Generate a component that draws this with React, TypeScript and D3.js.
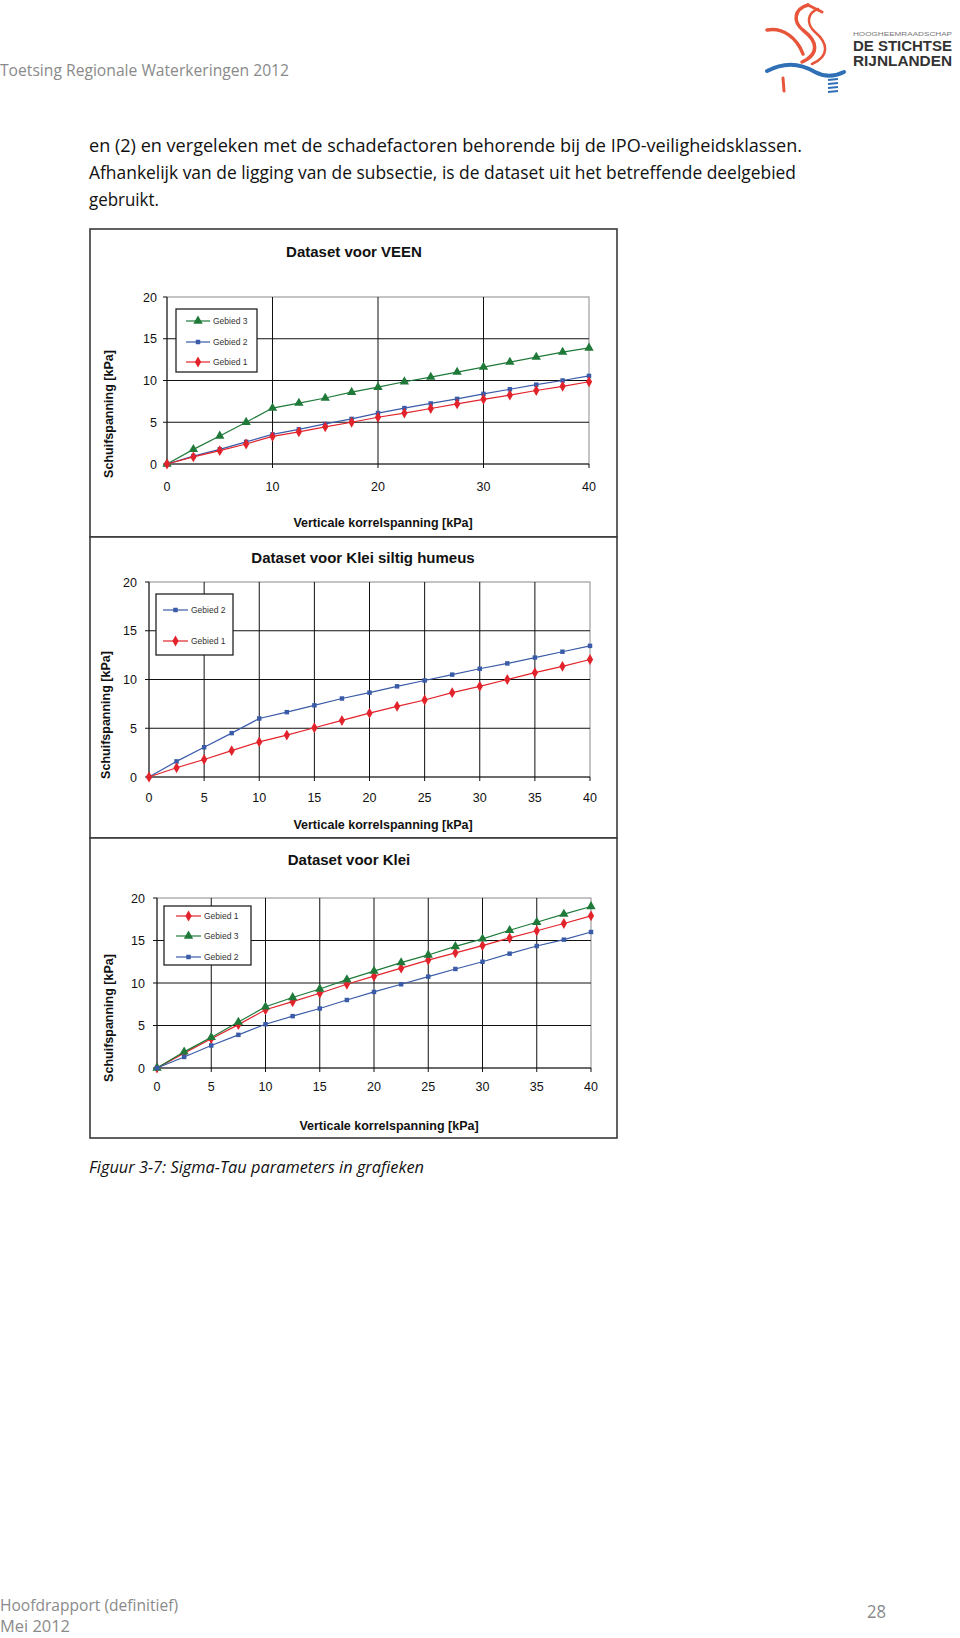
import React from "react";
import * as d3 from "d3";

// ---------- data ----------
const xVals = [0, 2.5, 5, 7.5, 10, 12.5, 15, 17.5, 20, 22.5, 25, 27.5, 30, 32.5, 35, 37.5, 40];

const veenGebied3 = [0, 1.75, 3.35, 5.0, 6.7, 7.3, 7.9, 8.6, 9.2, 9.85, 10.4, 11.0, 11.6, 12.2, 12.8, 13.4, 13.9];
const veenGebied2 = [0, 0.95, 1.75, 2.65, 3.55, 4.15, 4.8, 5.4, 6.1, 6.7, 7.25, 7.8, 8.4, 8.95, 9.5, 10.0, 10.55];
const veenGebied1 = [0, 0.85, 1.6, 2.4, 3.3, 3.85, 4.45, 5.0, 5.6, 6.1, 6.65, 7.2, 7.75, 8.25, 8.8, 9.3, 9.85];

const siltGebied2 = [0, 1.6, 3.05, 4.5, 6.0, 6.65, 7.35, 8.05, 8.65, 9.3, 9.9, 10.5, 11.1, 11.65, 12.25, 12.85, 13.45];
const siltGebied1 = [0, 0.95, 1.8, 2.7, 3.6, 4.3, 5.05, 5.8, 6.55, 7.25, 7.9, 8.65, 9.3, 10.0, 10.7, 11.35, 12.05];

const kleiGebied1 = [0, 1.75, 3.45, 5.1, 6.85, 7.8, 8.8, 9.85, 10.8, 11.75, 12.7, 13.55, 14.4, 15.3, 16.15, 17.0, 17.9];
const kleiGebied3 = [0, 1.9, 3.6, 5.4, 7.2, 8.3, 9.3, 10.4, 11.4, 12.4, 13.3, 14.3, 15.2, 16.2, 17.15, 18.1, 19.0];
const kleiGebied2 = [0, 1.3, 2.65, 3.9, 5.15, 6.1, 7.0, 8.0, 8.95, 9.85, 10.75, 11.65, 12.5, 13.45, 14.35, 15.1, 16.0];

const yTicks = [0, 5, 10, 15, 20];
const xTicksVeen = [0, 10, 20, 30, 40];
const xTicksKlei = [0, 5, 10, 15, 20, 25, 30, 35, 40];

const chartTitles = ["Dataset voor VEEN", "Dataset voor Klei siltig humeus", "Dataset voor Klei"];
const yTitle = "Schuifspanning [kPa]";
const xTitle = "Verticale korrelspanning [kPa]";

const paragraphLines = [
  "en (2) en vergeleken met de schadefactoren behorende bij de IPO-veiligheidsklassen.",
  "Afhankelijk van de ligging van de subsectie, is de dataset uit het betreffende deelgebied",
  "gebruikt.",
];

// ---------- styles ----------
const GREEN = "#1f7a3a";
const BLUE = "#3a5ba8";
const RED = "#e3232b";
const SANS = "Liberation Sans, Arial, sans-serif";
const BODY = "Open Sans, sans-serif";

type Series = { name: string; values: number[]; color: string; marker: "triangle" | "square" | "diamond" };

const markerPath = (m: string) => {
  if (m === "triangle") return d3.symbol(d3.symbolTriangle, 38)()!;
  if (m === "square") return d3.symbol(d3.symbolSquare, 20)()!;
  return d3.symbol(d3.symbolDiamond, 34)()!;
};

type ChartCfg = {
  box: [number, number, number, number];
  plot: [number, number, number, number];
  title: string;
  titleY: number;
  titleX: number;
  xTicks: number[];
  series: Series[];
  legend: { x0: number; y0: number; x1: number; y1: number; rows: number[]; lx0: number; lx1: number; tx: number };
  yTitleX: number;
  yTitleY: number;
  xTitleX: number;
  xTitleY: number;
  yLabelGap: number;
  xLabelY: number;
};

function Chart({ c }: { c: ChartCfg }) {
  const [px0, py0, px1, py1] = c.plot;
  const x = d3.scaleLinear().domain([0, 40]).range([px0, px1]);
  const y = d3.scaleLinear().domain([0, 20]).range([py1, py0]);
  const line = d3
    .line<number>()
    .x((_, i) => x(xVals[i]))
    .y((d) => y(d));
  const [bx0, by0, bx1, by1] = c.box;
  return (
    <g>
      <rect x={bx0} y={by0} width={bx1 - bx0} height={by1 - by0} fill="#fff" stroke="#3a3a3a" strokeWidth={1.6} />
      <text x={c.titleX} y={c.titleY + 5} textAnchor="middle" fontFamily={SANS} fontWeight="bold" fontSize={15} fill="#111">
        {c.title}
      </text>
      <rect x={px0} y={py0} width={px1 - px0} height={py1 - py0} fill="none" stroke="#8a8a8a" strokeWidth={1} />
      {yTicks.slice(1, -1).map((t) => (
        <line key={"gy" + t} x1={px0} x2={px1} y1={y(t)} y2={y(t)} stroke="#111" strokeWidth={1} />
      ))}
      {c.xTicks.slice(1, -1).map((t) => (
        <line key={"gx" + t} x1={x(t)} x2={x(t)} y1={py0} y2={py1} stroke="#111" strokeWidth={1} />
      ))}
      <line x1={px0} x2={px0} y1={py0} y2={py1} stroke="#111" strokeWidth={1} />
      <line x1={px0} x2={px1} y1={py1} y2={py1} stroke="#111" strokeWidth={1} />
      {yTicks.map((t) => (
        <g key={"ty" + t}>
          <line x1={px0 - 4} x2={px0} y1={y(t)} y2={y(t)} stroke="#111" />
          <text x={px0 - c.yLabelGap} y={y(t) + 4.5} textAnchor="end" fontFamily={SANS} fontSize={12.5} fill="#111">
            {t}
          </text>
        </g>
      ))}
      {c.xTicks.map((t) => (
        <g key={"tx" + t}>
          <line x1={x(t)} x2={x(t)} y1={py1} y2={py1 + 4} stroke="#111" />
          <text x={x(t)} y={c.xLabelY + 4.5} textAnchor="middle" fontFamily={SANS} fontSize={12.5} fill="#111">
            {t}
          </text>
        </g>
      ))}
      <text
        transform={`translate(${c.yTitleX},${c.yTitleY}) rotate(-90)`}
        textAnchor="middle"
        fontFamily={SANS}
        fontWeight="bold"
        fontSize={12.5}
        fill="#111"
        dy={4.5}
      >
        {yTitle}
      </text>
      <text x={c.xTitleX} y={c.xTitleY + 4.5} textAnchor="middle" fontFamily={SANS} fontWeight="bold" fontSize={12.5} fill="#111">
        {xTitle}
      </text>
      {c.series.map((s) => (
        <g key={s.name}>
          <path d={line(s.values) || ""} fill="none" stroke={s.color} strokeWidth={1.2} />
          {s.values.map((v, i) => (
            <path key={i} d={markerPath(s.marker)} transform={`translate(${x(xVals[i])},${y(v)})`} fill={s.color} />
          ))}
        </g>
      ))}
      <rect
        x={c.legend.x0}
        y={c.legend.y0}
        width={c.legend.x1 - c.legend.x0}
        height={c.legend.y1 - c.legend.y0}
        fill="#fff"
        stroke="#222"
        strokeWidth={1.3}
      />
      {c.series.map((s, i) => {
        const ry = c.legend.rows[i];
        const mx = (c.legend.lx0 + c.legend.lx1) / 2;
        return (
          <g key={"lg" + s.name}>
            <line x1={c.legend.lx0} x2={c.legend.lx1} y1={ry} y2={ry} stroke={s.color} strokeWidth={1.2} />
            <path d={markerPath(s.marker)} transform={`translate(${mx},${ry})`} fill={s.color} />
            <text x={c.legend.tx} y={ry + 3} fontFamily={SANS} fontSize={8.5} fill="#333">
              {s.name}
            </text>
          </g>
        );
      })}
    </g>
  );
}

const charts: ChartCfg[] = [
  {
    box: [90, 229, 617, 537],
    plot: [167, 297, 589, 464],
    title: chartTitles[0],
    titleX: 354,
    titleY: 252,
    xTicks: xTicksVeen,
    series: [
      { name: "Gebied 3", values: veenGebied3, color: GREEN, marker: "triangle" },
      { name: "Gebied 2", values: veenGebied2, color: BLUE, marker: "square" },
      { name: "Gebied 1", values: veenGebied1, color: RED, marker: "diamond" },
    ],
    legend: { x0: 176, y0: 309, x1: 257, y1: 372, rows: [321, 342, 362], lx0: 186, lx1: 210, tx: 213 },
    yTitleX: 108,
    yTitleY: 414,
    xTitleX: 383,
    xTitleY: 522,
    yLabelGap: 10,
    xLabelY: 486,
  },
  {
    box: [90, 537, 617, 838],
    plot: [149, 582, 590, 777],
    title: chartTitles[1],
    titleX: 363,
    titleY: 558,
    xTicks: xTicksKlei,
    series: [
      { name: "Gebied 2", values: siltGebied2, color: BLUE, marker: "square" },
      { name: "Gebied 1", values: siltGebied1, color: RED, marker: "diamond" },
    ],
    legend: { x0: 156, y0: 594, x1: 233, y1: 655, rows: [610, 641], lx0: 163, lx1: 188, tx: 191 },
    yTitleX: 105,
    yTitleY: 715,
    xTitleX: 383,
    xTitleY: 824,
    yLabelGap: 12,
    xLabelY: 797,
  },
  {
    box: [90, 838, 617, 1138],
    plot: [157, 898, 591, 1068],
    title: chartTitles[2],
    titleX: 349,
    titleY: 860,
    xTicks: xTicksKlei,
    series: [
      { name: "Gebied 1", values: kleiGebied1, color: RED, marker: "diamond" },
      { name: "Gebied 3", values: kleiGebied3, color: GREEN, marker: "triangle" },
      { name: "Gebied 2", values: kleiGebied2, color: BLUE, marker: "square" },
    ],
    legend: { x0: 164, y0: 906, x1: 251, y1: 965, rows: [916, 936, 957], lx0: 176, lx1: 201, tx: 204 },
    yTitleX: 108,
    yTitleY: 1018,
    xTitleX: 389,
    xTitleY: 1125,
    yLabelGap: 12,
    xLabelY: 1086,
  },
];

function Logo() {
  const red = "#e8553a";
  const blue = "#2f6fb5";
  return (
    <g>
      <path d="M808 5 C794 9, 792 22, 804 31 C817 41, 820 54, 802 62" fill="none" stroke={red} strokeWidth={3.5} strokeLinecap="round" />
      <path d="M818 9 C807 13, 806 24, 815 32 C828 43, 830 56, 812 64" fill="none" stroke={red} strokeWidth={2.5} strokeLinecap="round" />
      <path d="M767 30 C783 27, 797 38, 803 54" fill="none" stroke={red} strokeWidth={3.5} strokeLinecap="round" />
      <path d="M808 5 L822 12" fill="none" stroke={red} strokeWidth={3} strokeLinecap="round" />
      <path d="M783 78 L784 91" fill="none" stroke={red} strokeWidth={3} strokeLinecap="round" />
      <path d="M767 71 C784 62, 800 63, 815 72 C826 78, 836 76, 844 72" fill="none" stroke={blue} strokeWidth={4} strokeLinecap="round" />
      {[80, 84, 88, 92].map((yy) => (
        <line key={yy} x1={828} x2={838} y1={yy} y2={yy - 1} stroke={blue} strokeWidth={2} />
      ))}
      <text x={853} y={36} fontFamily={SANS} fontSize={5.5} fill="#777" textLength={99} lengthAdjust="spacingAndGlyphs">
        HOOGHEEMRAADSCHAP
      </text>
      <text x={853} y={51} fontFamily={SANS} fontWeight="bold" fontSize={14} fill="#333" textLength={99} lengthAdjust="spacingAndGlyphs">
        DE STICHTSE
      </text>
      <text x={853} y={66} fontFamily={SANS} fontWeight="bold" fontSize={14} fill="#333" textLength={99} lengthAdjust="spacingAndGlyphs">
        RIJNLANDEN
      </text>
    </g>
  );
}

export default function App() {
  const paraY = [146, 173, 200];
  const paraW = [713, 707, 70];
  return (
    <svg
      width={960}
      height={1638}
      style={{ position: "absolute", left: 0, top: 0, display: "block", background: "#fff" }}
    >
      <rect width={960} height={1638} fill="#fff" />
      <text x={0} y={76} fontFamily={BODY} fontSize={16} fill="#8a8a8a" textLength={289} lengthAdjust="spacingAndGlyphs">
        Toetsing Regionale Waterkeringen 2012
      </text>
      <Logo />
      {paragraphLines.map((t, i) => (
        <text key={i} x={89} y={paraY[i] + 6} fontFamily={BODY} fontSize={18} fill="#111" textLength={paraW[i]} lengthAdjust="spacingAndGlyphs">
          {t}
        </text>
      ))}
      {charts.map((c, i) => (
        <Chart key={i} c={c} />
      ))}
      <text x={89} y={1173} fontFamily={BODY} fontStyle="italic" fontSize={17} fill="#111" textLength={335} lengthAdjust="spacingAndGlyphs">
        Figuur 3-7: Sigma-Tau parameters in grafieken
      </text>
      <text x={0} y={1611} fontFamily={BODY} fontSize={17} fill="#8a8a8a" textLength={178} lengthAdjust="spacingAndGlyphs">
        Hoofdrapport (definitief)
      </text>
      <text x={0} y={1632} fontFamily={BODY} fontSize={16} fill="#8a8a8a" textLength={70} lengthAdjust="spacingAndGlyphs">
        Mei 2012
      </text>
      <text x={867} y={1618} fontFamily={BODY} fontSize={18} fill="#8a8a8a" textLength={19} lengthAdjust="spacingAndGlyphs">
        28
      </text>
    </svg>
  );
}
